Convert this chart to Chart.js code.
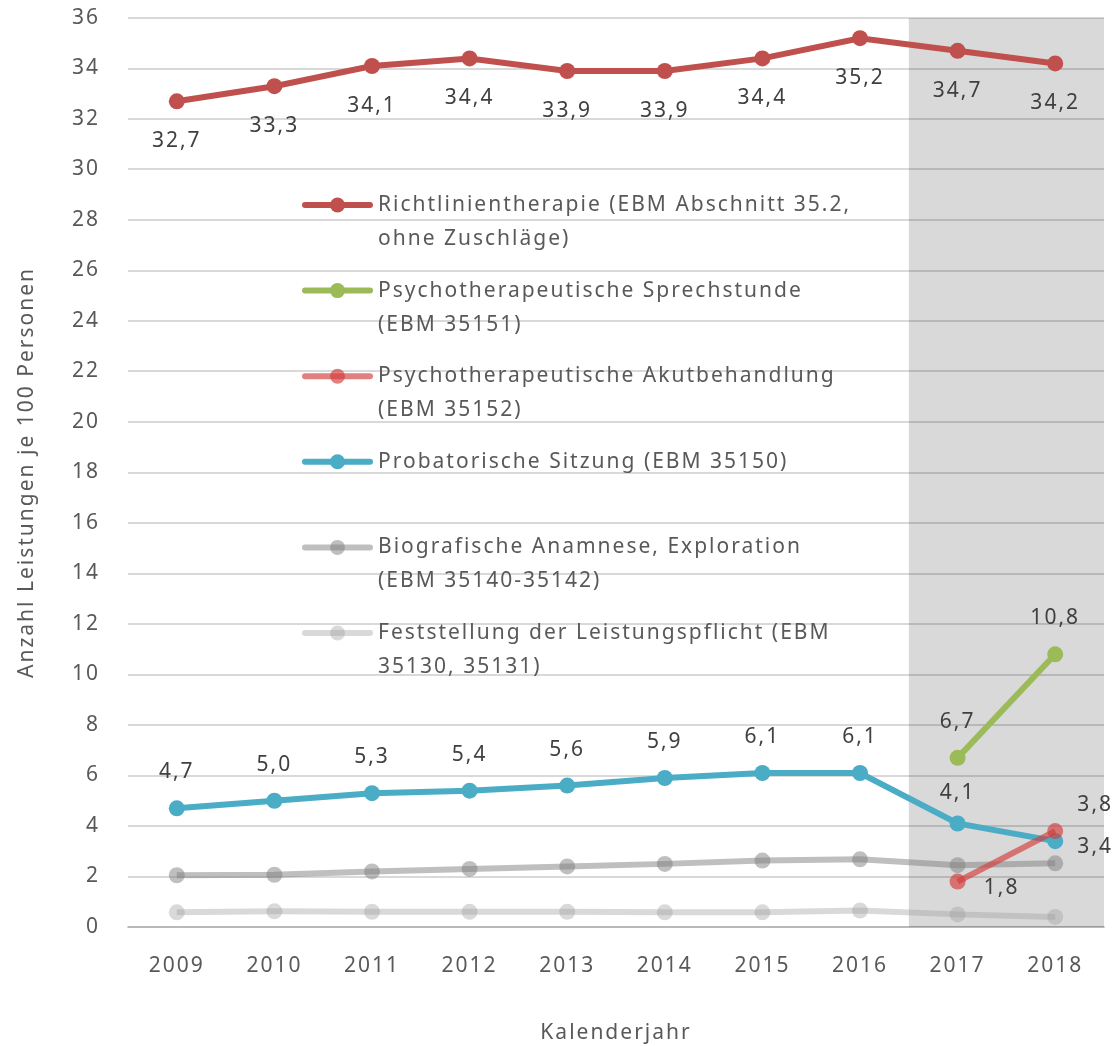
<!DOCTYPE html>
<html>
<head>
<meta charset="utf-8">
<script src="https://cdn.jsdelivr.net/npm/chart.js@4/dist/chart.umd.min.js"></script>
<style>
  html, body { margin: 0; padding: 0; background: #fff; }
  #wrap { width: 1112px; height: 1046px; }
</style>
</head>
<body>
<div id="wrap"><canvas id="chart"></canvas></div>
<script>
const years = ['2009', '2010', '2011', '2012', '2013', '2014', '2015', '2016', '2017', '2018'];

const richtlinien = [32.7, 33.3, 34.1, 34.4, 33.9, 33.9, 34.4, 35.2, 34.7, 34.2];
const sprechstunde = [null, null, null, null, null, null, null, null, 6.7, 10.8];
const akut = [null, null, null, null, null, null, null, null, 1.8, 3.8];
const probatorisch = [4.7, 5.0, 5.3, 5.4, 5.6, 5.9, 6.1, 6.1, 4.1, 3.4];
const biografisch = [2.05, 2.07, 2.2, 2.3, 2.4, 2.5, 2.63, 2.68, 2.45, 2.52];
const feststellung = [0.58, 0.62, 0.6, 0.6, 0.6, 0.58, 0.58, 0.65, 0.5, 0.4];

const seriesNames = [
    ['Richtlinientherapie (EBM Abschnitt 35.2,', 'ohne Zuschläge)'],
    ['Psychotherapeutische Sprechstunde', '(EBM 35151)'],
    ['Psychotherapeutische Akutbehandlung', '(EBM 35152)'],
    ['Probatorische Sitzung (EBM 35150)'],
    ['Biografische Anamnese, Exploration', '(EBM 35140-35142)'],
    ['Feststellung der Leistungspflicht (EBM', '35130, 35131)']
];

const yTicksMin = 0, yTicksMax = 36, yTicksStep = 2;
const shadedFrom = '2017';

const FONT = '"Noto Sans", sans-serif';
const textColor = '#595959';
const spacing = '2px';

// label offsets per point (dx, dy), null = no label
const below = [0, 40], above = [0, -36];
const labelOffsets = [
    years.map(() => below),
    [null, null, null, null, null, null, null, null, above, above],
    [null, null, null, null, null, null, null, null, [44, 6], [40, -26]],
    [above, above, above, above, above, above, above, above, [0, -30], [40, 6]],
    null,
    null
];

function fmt(v) {
    return v.toFixed(1).replace('.', ',');
}

function ds(i, data, color) {
    return {
        label: seriesNames[i].join(' '),
        data: data,
        borderColor: color,
        backgroundColor: color,
        pointBackgroundColor: color,
        pointBorderWidth: 0,
        pointRadius: 8,
        borderWidth: 6,
        tension: 0,
        spanGaps: false
    };
}

const datasets = [
    ds(0, richtlinien, '#c0504d'),
    ds(1, sprechstunde, '#9bbb59'),
    ds(2, akut, 'rgba(210,60,60,0.65)'),
    ds(3, probatorisch, '#4bacc6'),
    ds(4, biografisch, 'rgba(128,128,128,0.5)'),
    ds(5, feststellung, 'rgba(160,160,160,0.4)')
];

// wider letter spacing like the original export
const spacingPlugin = {
    id: 'spacing',
    beforeLayout(chart) { chart.ctx.letterSpacing = spacing; },
    beforeDraw(chart) { chart.ctx.letterSpacing = spacing; }
};

const shadePlugin = {
    id: 'shade',
    beforeDraw(chart) {
        const x = chart.scales.x, area = chart.chartArea, ctx = chart.ctx;
        const idx = years.indexOf(shadedFrom);
        const half = (x.getPixelForValue(1) - x.getPixelForValue(0)) / 2;
        const left = x.getPixelForValue(idx) - half;
        ctx.save();
        ctx.fillStyle = '#d9d9d9';
        ctx.fillRect(left, area.top, area.right - left, area.bottom - area.top);
        ctx.restore();
    }
};

const labelPlugin = {
    id: 'valueLabels',
    afterDatasetsDraw(chart) {
        const ctx = chart.ctx;
        ctx.save();
        ctx.font = '21px ' + FONT;
        ctx.fillStyle = '#404040';
        ctx.textAlign = 'center';
        ctx.textBaseline = 'middle';
        chart.data.datasets.forEach((d, i) => {
            const offs = labelOffsets[i];
            if (!offs) return;
            const meta = chart.getDatasetMeta(i);
            d.data.forEach((v, j) => {
                if (v === null || !offs[j]) return;
                const p = meta.data[j];
                ctx.fillText(fmt(v), p.x + offs[j][0], p.y + offs[j][1]);
            });
        });
        ctx.restore();
    }
};

const legendPlugin = {
    id: 'innerLegend',
    afterDraw(chart) {
        const ctx = chart.ctx;
        const x0 = 305, x1 = 370, textX = 378;
        const top = 205, rowGap = 85.6, lineGap = 34;
        ctx.save();
        ctx.font = '21px ' + FONT;
        ctx.textBaseline = 'middle';
        ctx.textAlign = 'left';
        chart.data.datasets.forEach((d, i) => {
            const y = top + i * rowGap;
            ctx.strokeStyle = d.borderColor;
            ctx.lineWidth = 6;
            ctx.lineCap = 'round';
            ctx.beginPath();
            ctx.moveTo(x0, y);
            ctx.lineTo(x1, y);
            ctx.stroke();
            ctx.fillStyle = d.pointBackgroundColor;
            ctx.beginPath();
            ctx.arc((x0 + x1) / 2, y, 7.5, 0, Math.PI * 2);
            ctx.fill();
            ctx.fillStyle = textColor;
            seriesNames[i].forEach((line, k) => {
                ctx.fillText(line, textX, y + k * lineGap);
            });
        });
        ctx.restore();
    }
};

new Chart(document.getElementById('chart'), {
    type: 'line',
    data: { labels: years, datasets: datasets },
    plugins: [spacingPlugin, shadePlugin, labelPlugin, legendPlugin],
    options: {
        responsive: true,
        maintainAspectRatio: false,
        animation: false,
        layout: { padding: { top: 0, right: 7, left: 0, bottom: 0 } },
        plugins: {
            legend: { display: false },
            tooltip: { enabled: false }
        },
        scales: {
            x: {
                offset: true,
                grid: { display: false, drawTicks: false, offset: true },
                border: { display: true, color: 'rgba(0,0,0,0.15)', width: 2 },
                ticks: { color: textColor, font: { family: FONT, size: 21 }, padding: 26, maxRotation: 0 },
                title: {
                    display: true,
                    text: 'Kalenderjahr',
                    color: textColor,
                    font: { family: FONT, size: 21 },
                    padding: { top: 0, bottom: 0 }
                },
                afterFit(scale) { scale.height = 119; }
            },
            y: {
                min: yTicksMin,
                max: yTicksMax,
                grid: { color: 'rgba(0,0,0,0.15)', lineWidth: 2, drawTicks: false },
                border: { display: false },
                ticks: {
                    stepSize: yTicksStep,
                    color: textColor,
                    font: { family: FONT, size: 21 },
                    padding: 28
                },
                title: {
                    display: true,
                    text: 'Anzahl Leistungen je 100 Personen',
                    color: textColor,
                    font: { family: FONT, size: 21 },
                    padding: { top: 14, bottom: 0 }
                },
                afterFit(scale) {
                    scale.width = 128;
                    scale.paddingTop = 18;
                    scale.paddingBottom = 13;
                }
            }
        }
    }
});
</script>
</body>
</html>
